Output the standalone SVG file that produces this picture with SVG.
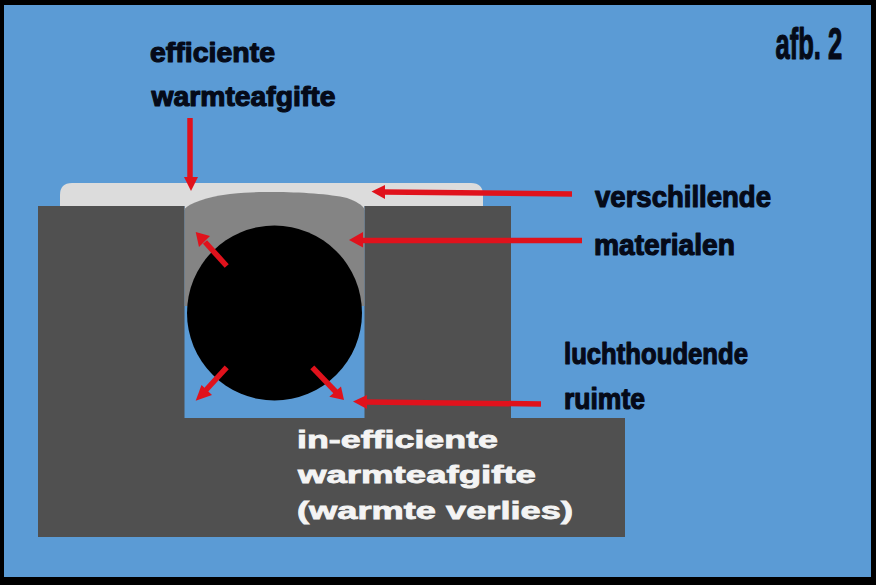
<svg xmlns="http://www.w3.org/2000/svg" width="876" height="585" viewBox="0 0 876 585">
<style>
.t{font-family:"Liberation Sans",Arial,sans-serif;font-weight:700;fill:#050a18;stroke:#050a18;stroke-width:1.2px;stroke-linejoin:round}
.w{font-family:"Liberation Sans",Arial,sans-serif;font-weight:700;fill:#f4f4f4;stroke:#f4f4f4;stroke-width:.8px;font-size:24px}
.l{stroke:#e0121c;stroke-width:5.500;fill:none}
.h{fill:#e0121c}
</style>
<rect width="876" height="585" fill="#000"/>
<rect x="4" y="5" width="867" height="572" fill="#5b9bd5"/>
<g id="cover"><path d="M60 206V195Q60 183 72 183H471Q483 183 483 195V206H364.500V210H184.500V206Z" fill="#dcdcdc"/></g>
<g id="block"><path d="M38 206H184.500V418H364.500V206H511V418H625V537H38Z" fill="#505050"/></g>
<g id="filler"><path d="M184.500 209C190 203 206 197 230 194C250 192 262 192 273 192C300 192 330 194 347 198C356 201 362 205 364.500 209V306H184.500Z" fill="#848484"/></g>
<g id="pipe"><circle cx="274.500" cy="313" r="87.500" fill="#000"/></g>
<g id="connectors">
<path class="l" d="M190 118V178"/><path class="h" d="M184 177H198L191 191Z"/>
<path class="l" d="M572 194L384 192"/><path class="h" d="M371.500 191.500L385 185V199Z"/>
<path class="l" d="M582 240.500H362"/><path class="h" d="M349 240L363 232V247.500Z"/>
<path class="l" d="M541 404L366 402"/><path class="h" d="M353 401.500L367 395V409Z"/>
<path class="l" d="M226.700 266L205 242"/><path class="h" d="M195.700 232L210 236L199 247Z"/>
<path class="l" d="M226.700 367.300L206 390"/><path class="h" d="M195.700 400.700L212 395L201.500 385Z"/>
<path class="l" d="M312.300 367.300L336 392"/><path class="h" d="M344 400L341 386.500L329.300 396.700Z"/>
</g>
<g id="labels">
<text class="t" x="150" y="61.500" font-size="28" textLength="125" lengthAdjust="spacingAndGlyphs">efficiente</text>
<text class="t" x="151.500" y="105.500" font-size="28" textLength="184" lengthAdjust="spacingAndGlyphs">warmteafgifte</text>
<text class="t" transform="translate(775.500 59) scale(.58 1)" font-size="44" stroke-width="1.800">afb. 2</text>
<text class="t" x="595" y="206.500" font-size="30" textLength="176" lengthAdjust="spacingAndGlyphs">verschillende</text>
<text class="t" x="594" y="254.500" font-size="30" textLength="141" lengthAdjust="spacingAndGlyphs">materialen</text>
<text class="t" x="564" y="364" font-size="30" textLength="184" lengthAdjust="spacingAndGlyphs">luchthoudende</text>
<text class="t" x="564" y="409" font-size="30" textLength="81" lengthAdjust="spacingAndGlyphs">ruimte</text>
<text class="w" x="297" y="448" textLength="201" lengthAdjust="spacingAndGlyphs">in-efficiente</text>
<text class="w" x="298" y="483" textLength="238" lengthAdjust="spacingAndGlyphs">warmteafgifte</text>
<text class="w" x="297" y="519" textLength="276" lengthAdjust="spacingAndGlyphs">(warmte verlies)</text>
</g>
</svg>
